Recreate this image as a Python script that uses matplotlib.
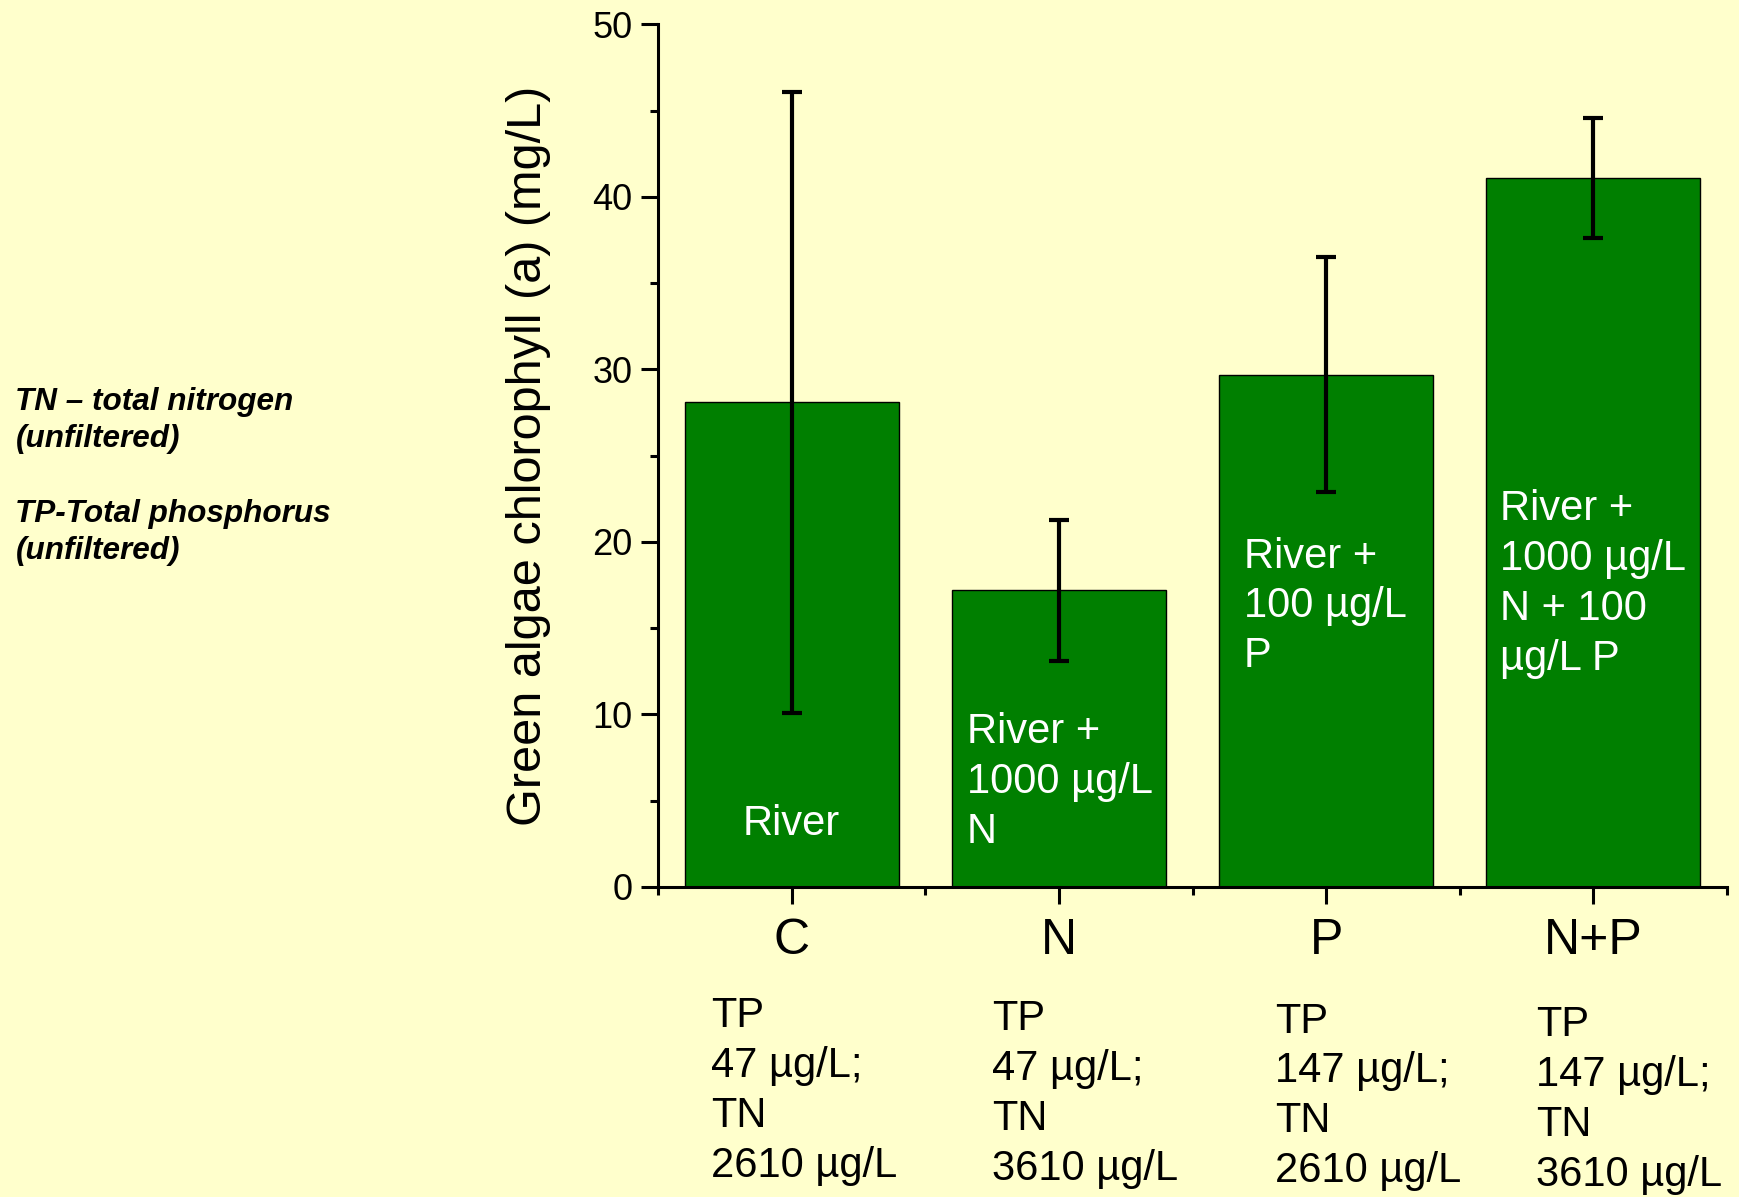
import matplotlib
matplotlib.use("Agg")
import matplotlib.pyplot as plt
import matplotlib.transforms as mtransforms
import numpy as np

plt.rcParams['font.family'] = ['Liberation Sans', 'DejaVu Sans']

categories = ["C", "N", "P", "N+P"]
chl_mean = [28.1, 17.2, 29.7, 41.1]
chl_err = [18.0, 4.1, 6.8, 3.5]
bar_notes = ["River", "River +\n1000 µg/L\nN", "River +\n100 µg/L\nP",
             "River +\n1000 µg/L\nN + 100\nµg/L P"]
nutrient_notes = ["TP\n47 µg/L;\nTN\n2610 µg/L", "TP\n47 µg/L;\nTN\n3610 µg/L",
                  "TP\n147 µg/L;\nTN\n2610 µg/L", "TP\n147 µg/L;\nTN\n3610 µg/L"]
legend_note = "TN – total nitrogen\n(unfiltered)\n\nTP-Total phosphorus\n(unfiltered)"

bg = '#FFFFCC'
green = '#007F00'

fig = plt.figure(figsize=(17.39, 11.97), dpi=100, facecolor=bg)
ax = fig.add_axes([0.3784, 0.259, 0.6147, 0.7206])
ax.set_facecolor(bg)

x = np.arange(len(categories))
ax.bar(x, chl_mean, width=0.8, color=green, edgecolor='black', linewidth=1.0, zorder=2)
ax.errorbar(x, chl_mean, yerr=chl_err, fmt='none', ecolor='black',
            elinewidth=3.0, capsize=7.2, capthick=3.0, zorder=3)

ax.set_xlim(-0.5, 3.5)
ax.set_ylim(0, 50)
ax.set_yticks(np.arange(0, 51, 10))
ax.set_yticks(np.arange(5, 50, 10), minor=True)
ax.set_xticks(x)
ax.set_xticklabels(categories)
ax.set_xticks(np.arange(-0.5, 4, 1.0), minor=True)

for s in ['top', 'right']:
    ax.spines[s].set_visible(False)
for s in ['left', 'bottom']:
    ax.spines[s].set_linewidth(2.2)

ax.tick_params(axis='both', which='major', direction='out', length=12.5, width=2.2)
ax.tick_params(axis='both', which='minor', direction='out', length=6, width=2.2)
ax.tick_params(axis='y', which='major', labelsize=26, pad=6)
ax.tick_params(axis='x', which='major', labelsize=36, pad=10)

ax.set_ylabel("Green algae chlorophyll (a) (mg/L)", fontsize=35)
ax.yaxis.set_label_coords(-0.100, 0.5)

# labels inside the bars
note_dx = [0.0, -0.344, -0.307, -0.349]
note_y = [3.66, 6.1, 16.26, 17.58]
for i, txt in enumerate(bar_notes):
    ha = 'center' if i == 0 else 'left'
    ax.text(x[i] + note_dx[i], note_y[i], txt, color='white', fontsize=30,
            ha=ha, va='center', linespacing=1.32, zorder=4)

# nutrient text under the axis
trans = mtransforms.blended_transform_factory(ax.transData, fig.transFigure)
under_dx = [-0.303, -0.249, -0.191, -0.216]
under_y = [0.168, 0.1654, 0.1633, 0.1604]
for i, txt in enumerate(nutrient_notes):
    ax.text(x[i] + under_dx[i], under_y[i], txt, transform=trans, fontsize=30,
            ha='left', va='top', linespacing=1.32, clip_on=False)

fig.text(0.0089, 0.6019, legend_note, fontsize=22.7, fontweight='bold',
         fontstyle='italic', ha='left', va='center', linespacing=1.32)

fig.savefig("out.png", dpi=100, facecolor=bg)
